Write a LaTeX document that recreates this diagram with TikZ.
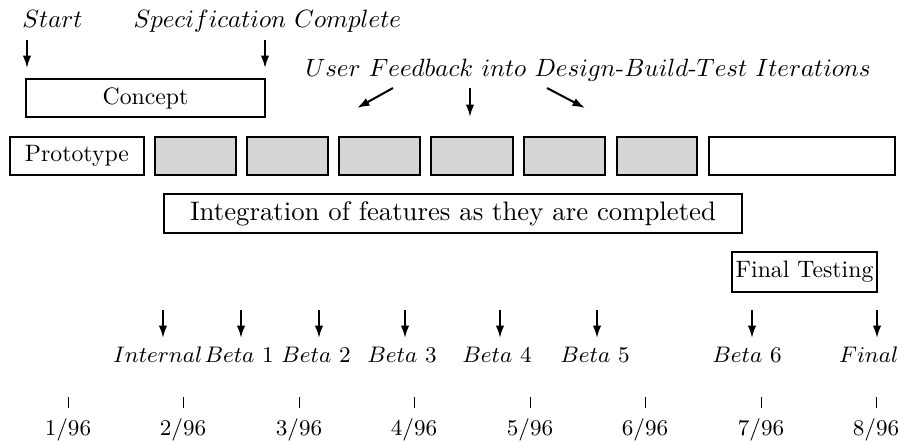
\documentclass[tikz,border=0pt]{standalone}
\usetikzlibrary{arrows.meta}
\begin{document}
\begin{tikzpicture}[x=0.4pt,y=-0.4pt,
  box/.style={draw,line width=0.8pt,inner sep=0pt,font=\fontsize{9.5pt}{12pt}\selectfont},
  graybox/.style={box,fill=black!16},
  marker/.style={line width=0.8pt,-{Latex[length=5pt,width=3.4pt]}},
  tick/.style={line width=0.4pt},
  lbl/.style={anchor=base west,inner sep=0pt},
  small/.style={inner sep=0pt,font=\fontsize{9pt}{11pt}\selectfont}]
\useasboundingbox (0,0) rectangle (901,442);

% milestone captions at the top
\node[lbl] (start) at (22,27) {$Start$};
\node[lbl] (spec) at (133,27) {$Specification\ Complete$};
\node[lbl] (fb) at (305,76) {$User\ Feedback\ into\ Design\mbox{-}Build\mbox{-}Test\ Iterations$};

\coordinate (startA) at (27,40);  \coordinate (startB) at (27,68);
\coordinate (specA) at (265,40);  \coordinate (specB) at (265,68);
\draw[marker] (startA) -- (startB);
\draw[marker] (specA) -- (specB);

% feedback arrows
\coordinate (fb1a) at (393,88);  \coordinate (fb1b) at (357,108);
\coordinate (fb2a) at (470,88);  \coordinate (fb2b) at (470,117);
\coordinate (fb3a) at (547,88);  \coordinate (fb3b) at (585,108);
\draw[marker] (fb1a) -- (fb1b);
\draw[marker] (fb2a) -- (fb2b);
\draw[marker] (fb3a) -- (fb3b);

% phases: centre, width, height in pixel units
\node[box,minimum width=239*0.4pt,minimum height=38*0.4pt] (concept) at (145.5,98) {Concept};
\node[box,minimum width=134*0.4pt,minimum height=38*0.4pt] (proto) at (77,156) {Prototype};
\foreach \cx/\w/\n in {195.5/81/1,287.5/81/2,379.5/81/3,472/82/4,564.5/81/5,657/80/6}{
  \node[graybox,minimum width=\w*0.4pt,minimum height=38*0.4pt] (it\n) at (\cx,156) {};
}
\node[box,minimum width=186*0.4pt,minimum height=38*0.4pt] (it7) at (802,156) {};
\node[box,minimum width=578*0.4pt,minimum height=39*0.4pt,font=\fontsize{10.7pt}{13pt}\selectfont] (integ) at (453,213.5)
  {Integration of features as they are completed};
\node[box,minimum width=145*0.4pt,minimum height=40*0.4pt] (final) at (804.5,272) {Final Testing};

% releases: arrow x, label anchor, label x
\foreach \x/\an/\lx/\name/\txt in {163/base east/203/rI/{$Internal$},241/base west/204/rB1/{$Beta$ 1},
    319/base/316/rB2/{$Beta$ 2},405/base/402/rB3/{$Beta$ 3},500/base/497/rB4/{$Beta$ 4},
    597/base/595/rB5/{$Beta$ 5},752/base/747/rB6/{$Beta$ 6},877/base east/899/rF/{$Final$}}{
  \coordinate (\name a) at (\x,310);
  \coordinate (\name b) at (\x,338);
  \draw[marker] (\name a) -- (\name b);
  \node[small,anchor=\an] (\name) at (\lx,362) {\txt};
}

% time axis
\foreach \x/\m in {68/1,183/2,299/3,414/4,530/5,645/6,761/7,876/8}{
  \coordinate (t\m a) at (\x,397);
  \coordinate (t\m b) at (\x,408);
  \draw[tick] (t\m a) -- (t\m b);
  \node[small,anchor=base] (d\m) at (\x,435) {$\m/96$};
}
\end{tikzpicture}
\end{document}
